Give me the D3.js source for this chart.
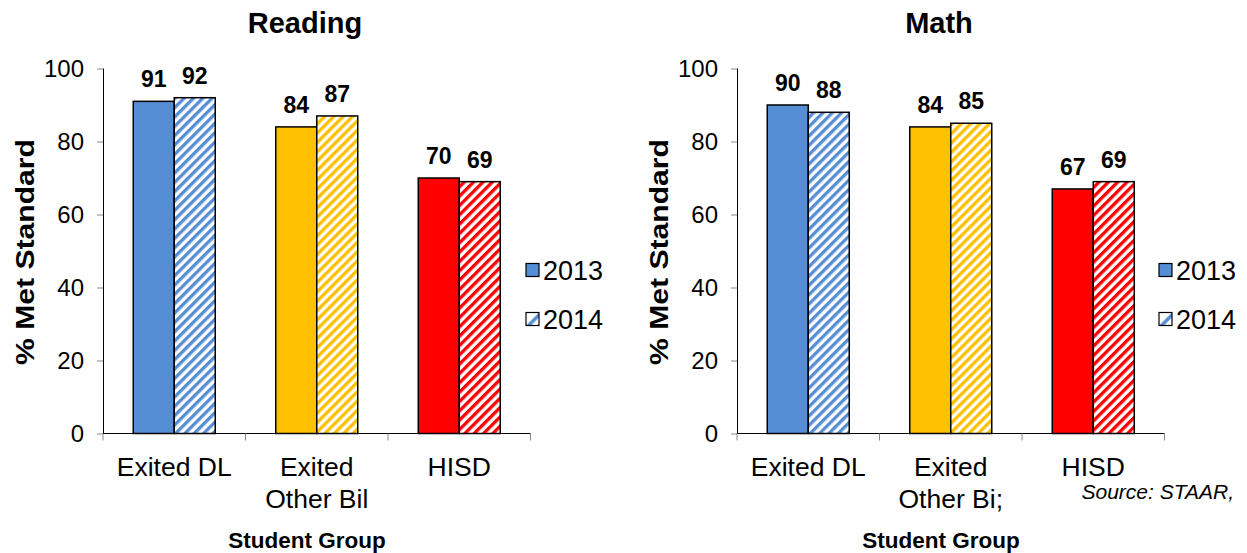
<!DOCTYPE html>
<html><head><meta charset="utf-8">
<script src="https://cdn.jsdelivr.net/npm/d3@7"></script>
<style>body{margin:0;background:#fff}svg{font-family:"Liberation Sans",Arial,sans-serif}</style>
</head><body><svg id="c" width="1247" height="553"></svg>
<script>
const categories = [["Exited DL"], ["Exited", "Other Bil"], ["HISD"]];
const categoriesMath = [["Exited DL"], ["Exited", "Other Bi;"], ["HISD"]];
const years = ["2013", "2014"];
const reading2013 = [91, 84, 70];
const reading2014 = [92, 87, 69];
const math2013 = [90, 84, 67];
const math2014 = [88, 85, 69];
const yTicks = [0, 20, 40, 60, 80, 100];
const colors = ["#558ED5", "#FFC000", "#FF0000"];

const svg = d3.select("#c");
const defs = svg.append("defs");
colors.forEach((c, i) => {
  const p = defs.append("pattern").attr("id", "h" + i).attr("patternUnits", "userSpaceOnUse")
    .attr("width", 6.6).attr("height", 6.6).attr("patternTransform", "rotate(45)");
  p.append("rect").attr("width", 6.6).attr("height", 6.6).attr("fill", "#fff");
  p.append("rect").attr("width", 3.3).attr("height", 6.6).attr("fill", c);
  const q = defs.append("pattern").attr("id", "l" + i).attr("patternUnits", "objectBoundingBox")
    .attr("width", 1).attr("height", 1);
  q.append("rect").attr("width", 13).attr("height", 13).attr("fill", "#fff");
  q.append("path").attr("d", "M0,13 L13,0 L13,5 L5,13 Z").attr("fill", c);
});

function chart(x0, title, cats, v13, v14, legX, srcText) {
  const g = svg.append("g");
  const x = d3.scaleBand().domain(d3.range(3)).range([x0, x0 + 427.5]).padding(0);
  const y = d3.scaleLinear().domain([0, 100]).range([433.5, 68.5]);
  const inner = d3.scaleBand().domain(years).range([0, 82]);
  const off = (x.bandwidth() - 82) / 2;

  // y axis
  const ya = g.append("g").attr("transform", `translate(${x0},0)`)
    .call(d3.axisLeft(y).tickValues(yTicks).tickSizeOuter(0).tickSizeInner(6).tickPadding(13));
  ya.select(".domain").attr("stroke", "#000").attr("d", `M0.5,${y(100)}V${y(0)}`);
  ya.selectAll(".tick line").attr("stroke", "#888");
  ya.selectAll("text").attr("font-size", 24).attr("fill", "#000").attr("font-family", "Liberation Sans, Arial");

  // x axis line + ticks at boundaries
  g.append("line").attr("x1", x0).attr("x2", x0 + 427.5).attr("y1", y(0)).attr("y2", y(0)).attr("stroke", "#000").attr("stroke-width", 1.2);
  [0, 1, 2, 3].forEach(i => {
    const xx = i < 3 ? x(i) : x(2) + x.bandwidth();
    g.append("line").attr("x1", xx).attr("x2", xx).attr("y1", y(0)).attr("y2", y(0) + 7).attr("stroke", "#888");
  });

  const series = [v13, v14];
  series.forEach((vals, s) => {
    vals.forEach((v, i) => {
      const bx = x(i) + off + inner(years[s]);
      g.append("rect").attr("x", bx).attr("y", y(v)).attr("width", inner.bandwidth()).attr("height", y(0) - y(v))
        .attr("fill", s === 0 ? colors[i] : `url(#h${i})`).attr("stroke", "#000").attr("stroke-width", 1.5);
      g.append("text").attr("x", bx + inner.bandwidth() / 2).attr("y", y(v) - 14)
        .attr("text-anchor", "middle").attr("font-size", 23).attr("font-weight", "bold").text(v);
    });
  });

  // category labels
  cats.forEach((lines, i) => {
    lines.forEach((t, k) => {
      g.append("text").attr("x", x(i) + x.bandwidth() / 2).attr("y", 476 + k * 32)
        .attr("text-anchor", "middle").attr("font-size", 26.5).text(t);
    });
  });

  g.append("text").attr("x", x0 + 204).attr("y", 548).attr("text-anchor", "middle")
    .attr("font-size", 22.5).attr("font-weight", "bold").text("Student Group");
  g.append("text").attr("x", x0 + 202).attr("y", 33).attr("text-anchor", "middle")
    .attr("font-size", 29).attr("font-weight", "bold").text(title);
  g.append("text").attr("transform", `translate(${x0 - 69},252) rotate(-90)`).attr("text-anchor", "middle")
    .attr("font-size", 25).attr("font-weight", "bold")
    .attr("textLength", 226).attr("lengthAdjust", "spacingAndGlyphs").text("% Met Standard");

  // legend
  years.forEach((yr, s) => {
    const ly = 270 + s * 49;
    g.append("rect").attr("x", legX).attr("y", ly - 6.5).attr("width", 13).attr("height", 13)
      .attr("fill", s === 0 ? colors[0] : "url(#l0)").attr("stroke", "#000").attr("stroke-width", 1.2);
    g.append("text").attr("x", legX + 17).attr("y", ly + 10).attr("font-size", 27).text(yr);
  });

  if (srcText) {
    g.append("text").attr("x", 1234).attr("y", 499).attr("text-anchor", "end")
      .attr("font-size", 21).attr("font-style", "italic").text(srcText);
  }
}

chart(103, "Reading", categories, reading2013, reading2014, 526, null);
chart(737, "Math", categoriesMath, math2013, math2014, 1159, "Source: STAAR,");
</script></body></html>
